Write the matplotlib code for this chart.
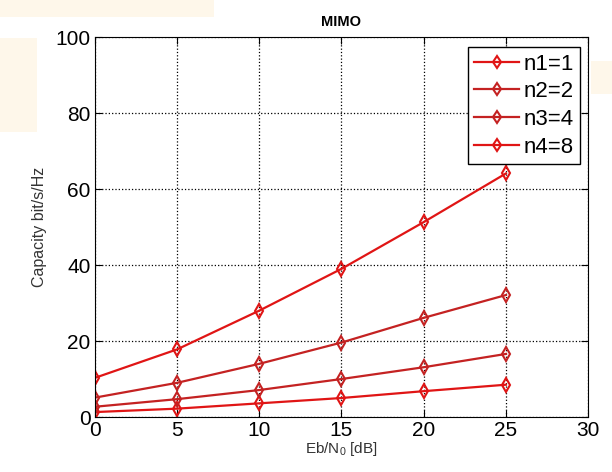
import numpy as np
import matplotlib
matplotlib.use('Agg')
import matplotlib.pyplot as plt
from matplotlib.patches import Rectangle

plt.rcParams['font.family'] = ['Liberation Sans', 'DejaVu Sans']
plt.rcParams['mathtext.fontset'] = 'custom'
plt.rcParams['mathtext.rm'] = 'Liberation Sans'
plt.rcParams['mathtext.it'] = 'Liberation Sans'

ebn0 = [0, 5, 10, 15, 20, 25]
n1 = [1.3, 2.2, 3.6, 5.0, 6.8, 8.5]
n2 = [2.7, 4.7, 7.1, 10.0, 13.1, 16.6]
n3 = [5.1, 9.0, 14.0, 19.6, 26.1, 32.1]
n4 = [10.3, 17.8, 28.0, 39.0, 51.3, 64.1]
labels = ['n1=1', 'n2=2', 'n3=4', 'n4=8']
colors = ['#e01515', '#c42222', '#c42222', '#e01515']

fig = plt.figure(figsize=(6.12, 4.72), dpi=100)
fig.patch.set_facecolor('white')
# faint slide background shapes
for (x, y, w, h) in [(0.0, 0.965, 0.35, 0.035), (0.0, 0.72, 0.06, 0.2), (0.965, 0.8, 0.035, 0.07)]:
    fig.patches.append(Rectangle((x, y), w, h, transform=fig.transFigure,
                                 facecolor='#fef7ea', edgecolor='none', zorder=0))

ax = fig.add_axes([0.155, 0.1165, 0.806, 0.805])
for ys, lab, c in zip([n1, n2, n3, n4], labels, colors):
    ax.plot(ebn0, ys, '-d', color=c, lw=1.6, ms=7, mfc='none', mew=1.5, label=lab)

ax.set_xlim(0, 30)
ax.set_ylim(0, 100)
ax.set_xticks([0, 5, 10, 15, 20, 25, 30])
ax.set_yticks([0, 20, 40, 60, 80, 100])
ax.tick_params(direction='in', labelsize=15, top=True, right=True, length=5, pad=3)
ax.grid(True, linestyle=':', color='black', lw=0.9)
ax.set_title('MIMO', fontsize=10.5, fontweight='bold', pad=8)
ax.set_xlabel(r'Eb/N$_0$ [dB]', fontsize=11, color='#333333', labelpad=0)
ax.set_ylabel('Capacity bit/s/Hz', fontsize=11.5, color='#333333', labelpad=6)
leg = ax.legend(loc='upper right', fontsize=16, fancybox=False, framealpha=1,
                edgecolor='black', handlelength=2.0, borderpad=0.3, labelspacing=0.3,
                handletextpad=0.2, markerscale=0.85, borderaxespad=0,
                bbox_to_anchor=(0.984, 0.974))
leg.get_frame().set_linewidth(1.0)

plt.savefig('out.png', dpi=100)
